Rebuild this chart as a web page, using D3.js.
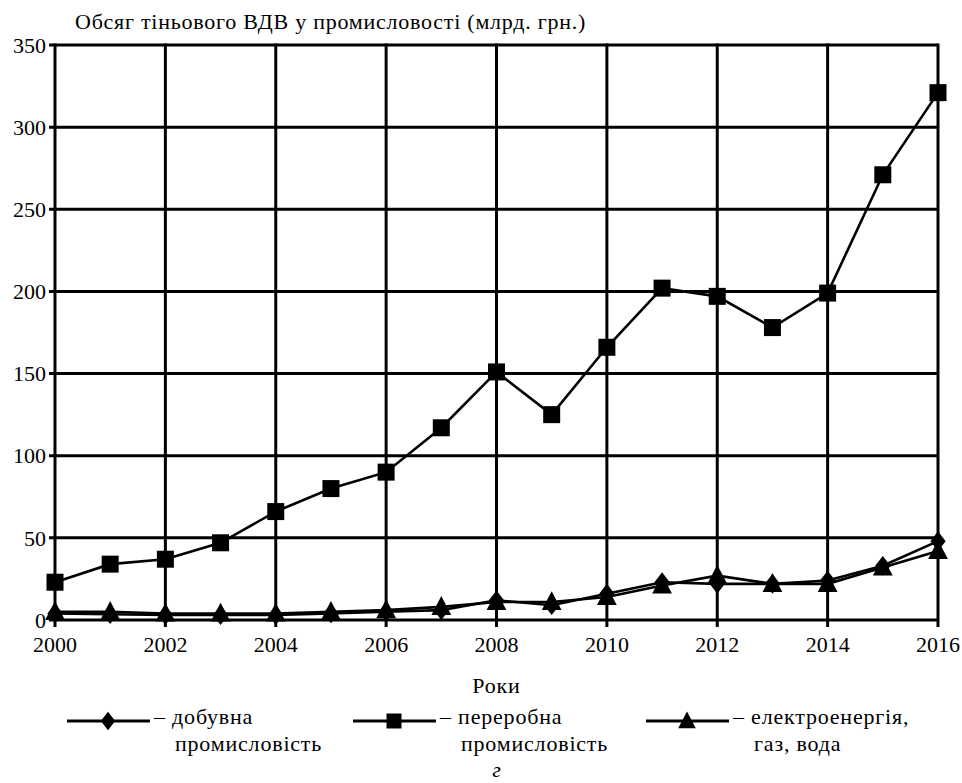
<!DOCTYPE html>
<html><head><meta charset="utf-8">
<script src="https://cdn.jsdelivr.net/npm/d3@7/dist/d3.min.js"></script>
<style>body{margin:0;background:#fff}svg{display:block}</style>
</head><body><svg id="c" width="962" height="783"></svg>
<script>
const years = [2000,2001,2002,2003,2004,2005,2006,2007,2008,2009,2010,2011,2012,2013,2014,2015,2016];
const dobuvna = [4,3.5,3,3,3,4,5,6,12,9,16,23,22,22,24,33,48];
const pererobna = [23,34,37,47,66,80,90,117,151,125,166,202,197,178,199,271,321];
const elektro = [5,5,4,4,4,5,6,8,11,11,14,21,27,22,22,32,42];
const yTicks = [0,50,100,150,200,250,300,350];
const xTicks = [2000,2002,2004,2006,2008,2010,2012,2014,2016];
const seriesNames = ["– добувна","– переробна","– електроенергія,"];
const seriesNames2 = ["промисловість","промисловість","газ, вода"];
const title = "Обсяг тіньового ВДВ у промисловості (млрд. грн.)";
const xTitle = "Роки";
const caption = "г";

const FONT = "Liberation Serif";
const svg = d3.select("#c");
const L=55,R=938,T=45,B=620;
const x = d3.scaleLinear().domain([2000,2016]).range([L,R]);
const y = d3.scaleLinear().domain([0,350]).range([B,T]);

const g = svg.append("g");
g.selectAll(".hg").data(yTicks).join("line")
  .attr("x1",L-6).attr("x2",R).attr("y1",d=>y(d)).attr("y2",d=>y(d))
  .attr("stroke","#000").attr("stroke-width",3);
g.selectAll(".vg").data(xTicks).join("line")
  .attr("x1",d=>x(d)).attr("x2",d=>x(d)).attr("y1",T-1.5).attr("y2",B+7)
  .attr("stroke","#000").attr("stroke-width",3);
g.selectAll(".yl").data(yTicks).join("text")
  .attr("font-family",FONT)
  .attr("x",L-9).attr("y",d=>y(d)).attr("dy","0.35em").attr("text-anchor","end")
  .attr("font-size",22).text(d=>d);
g.selectAll(".xl").data(xTicks).join("text")
  .attr("font-family",FONT)
  .attr("x",d=>x(d)).attr("y",B+32).attr("text-anchor","middle")
  .attr("font-size",22).text(d=>d);
svg.append("text").attr("font-family",FONT).attr("x",75).attr("y",29).attr("font-size",22)
  .attr("letter-spacing",0.75).text(title);
svg.append("text").attr("font-family",FONT).attr("x",(L+R)/2).attr("y",693).attr("text-anchor","middle")
  .attr("font-size",22).attr("letter-spacing",0.8).text(xTitle);
svg.append("text").attr("font-family",FONT).attr("x",(L+R)/2).attr("y",777).attr("text-anchor","middle")
  .attr("font-size",22).attr("font-style","italic").text(caption);

const sym = {
  diamond: s => `M0,${-s*0.58}L${s*0.45},0L0,${s*0.58}L${-s*0.45},0Z`,
  square: s => `M${-s/2},${-s/2}H${s/2}V${s/2}H${-s/2}Z`,
  triangle: s => `M0,${-s*0.6}L${s*0.55},${s*0.45}L${-s*0.55},${s*0.45}Z`
};
const series = [
  {v:dobuvna, m:"diamond", s:17},
  {v:pererobna, m:"square", s:17},
  {v:elektro, m:"triangle", s:18}
];
const line = d3.line().x((d,i)=>x(years[i])).y(d=>y(d));
const order=[1,2,0];
order.forEach(k=>{
  const sr=series[k];
  g.append("path").attr("d",line(sr.v)).attr("fill","none").attr("stroke","#000").attr("stroke-width",2.6);
});
order.forEach(k=>{
  const sr=series[k];
  g.selectAll(null).data(sr.v).join("path")
    .attr("transform",(d,i)=>`translate(${x(years[i])},${y(d)})`)
    .attr("d",sym[sr.m](sr.s)).attr("fill","#000");
});
const lx=[67,353,646];
series.forEach((sr,i)=>{
  const lg=svg.append("g").attr("transform",`translate(${lx[i]},721)`);
  lg.append("line").attr("x1",0).attr("x2",83).attr("stroke","#000").attr("stroke-width",3);
  lg.append("path").attr("transform","translate(41,0)").attr("d",sym[sr.m](sr.m==="square"?15:16)).attr("fill","#000");
  lg.append("text").attr("font-family",FONT).attr("x",87).attr("y",3).attr("font-size",22)
    .attr("letter-spacing",0.8).text(seriesNames[i]);
  lg.append("text").attr("font-family",FONT).attr("x",108).attr("y",30).attr("font-size",22)
    .attr("letter-spacing",0.8).text(seriesNames2[i]);
});
</script></body></html>
